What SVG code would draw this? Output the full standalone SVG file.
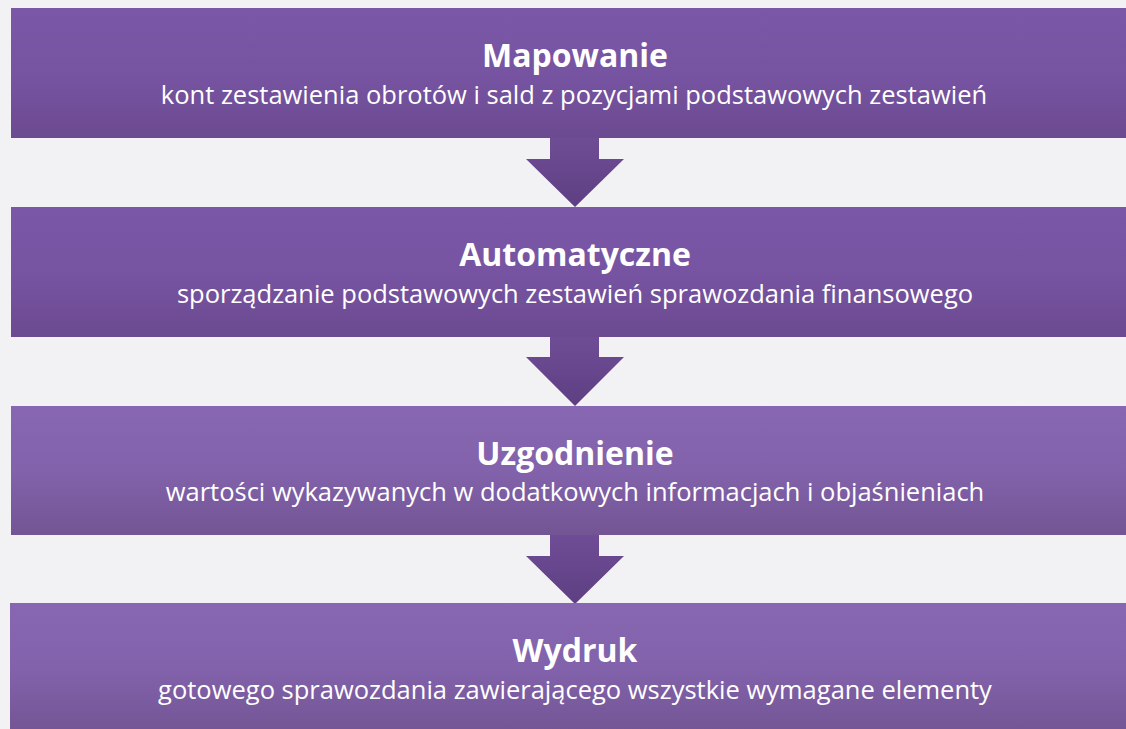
<svg xmlns="http://www.w3.org/2000/svg" width="1126" height="729" viewBox="0 0 1126 729">
<defs>
<linearGradient id="gA" x1="0" y1="0" x2="0" y2="1">
<stop offset="0" stop-color="#7B58A7"/>
<stop offset="0.5" stop-color="#7754A2"/>
<stop offset="1" stop-color="#6C4A90"/>
</linearGradient>
<linearGradient id="gB" x1="0" y1="0" x2="0" y2="1">
<stop offset="0" stop-color="#8767B1"/>
<stop offset="0.5" stop-color="#8262AB"/>
<stop offset="1" stop-color="#735594"/>
</linearGradient>
<linearGradient id="gArr" x1="0" y1="0" x2="0" y2="1">
<stop offset="0" stop-color="#6F4D96"/>
<stop offset="1" stop-color="#5E3F82"/>
</linearGradient>
</defs>
<style>
.t{font-family:"Open Sans","Noto Sans","DejaVu Sans",sans-serif;font-weight:bold;font-size:32px;fill:#ffffff;text-anchor:middle}
.s{font-family:"Open Sans","Noto Sans","DejaVu Sans",sans-serif;font-size:25.5px;fill:#ffffff;text-anchor:middle}
</style>
<rect x="0" y="0" width="1126" height="729" fill="#F2F2F4"/>
<g id="connectors">
<polygon points="550,138 599,138 599,159 624,159 575,207 526,159 550,159" fill="url(#gArr)"/>
<polygon points="550,337 599,337 599,357 624,357 575,406 526,357 550,357" fill="url(#gArr)"/>
<polygon points="550,535 599,535 599,556 624,556 575,604 526,556 550,556" fill="url(#gArr)"/>
</g>
<g id="node1">
<rect x="11" y="8" width="1130" height="130" fill="url(#gA)"/>
<text class="t" x="575" y="67">Mapowanie</text>
<text class="s" x="574" y="104">kont zestawienia obrotów i sald z pozycjami podstawowych zestawień</text>
</g>
<g id="node2">
<rect x="11" y="207" width="1130" height="130" fill="url(#gA)"/>
<text class="t" x="575" y="266">Automatyczne</text>
<text class="s" x="575" y="303">sporządzanie podstawowych zestawień sprawozdania finansowego</text>
</g>
<g id="node3">
<rect x="11" y="406" width="1130" height="129" fill="url(#gB)"/>
<text class="t" x="575" y="465">Uzgodnienie</text>
<text class="s" x="575" y="501">wartości wykazywanych w dodatkowych informacjach i objaśnieniach</text>
</g>
<g id="node4">
<rect x="10" y="603" width="1130" height="130" fill="url(#gB)"/>
<text class="t" x="575" y="662">Wydruk</text>
<text class="s" x="575" y="699">gotowego sprawozdania zawierającego wszystkie wymagane elementy</text>
</g>
</svg>
